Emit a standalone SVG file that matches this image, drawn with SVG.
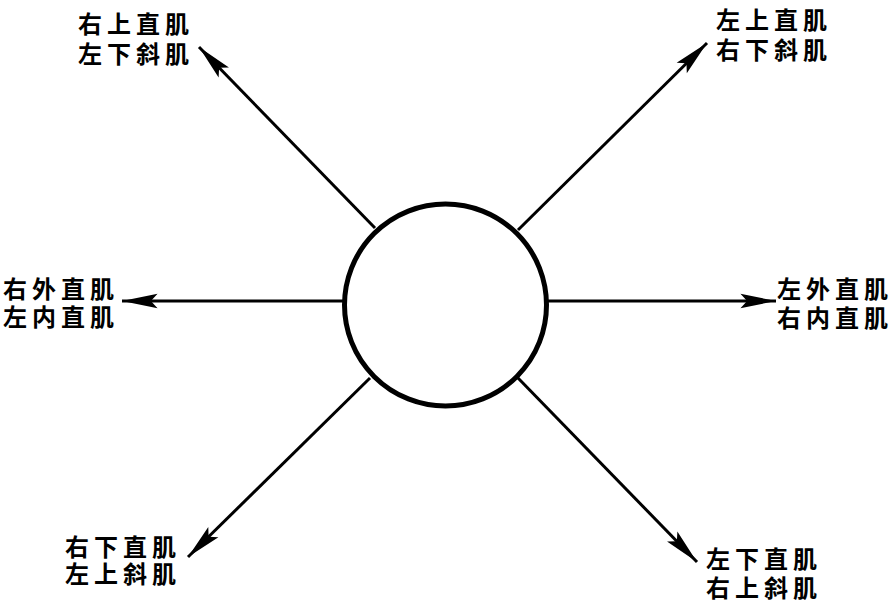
<svg xmlns="http://www.w3.org/2000/svg" width="895" height="605" viewBox="0 0 895 605">
<style>
.lbl{font-family:"Noto Sans CJK SC","Noto Sans CJK JP",sans-serif;font-size:24px;font-weight:bold;letter-spacing:5px;fill:#000}
.con{stroke:#000;stroke-width:3;fill:none;marker-end:url(#ah)}
</style>
<defs>
<marker id="ah" markerUnits="userSpaceOnUse" markerWidth="40" markerHeight="20" viewBox="-34 -9 36 18" refX="0" refY="0" orient="auto">
<path d="M0,0 L-32,-6.5 L-26,0 L-32,6.5 Z" fill="#000"/>
</marker>
</defs>
<rect width="895" height="605" fill="#fff"/>
<g id="connectors">
<line class="con" x1="375" y1="228" x2="199" y2="47"/>
<line class="con" x1="518" y1="230" x2="707" y2="43"/>
<line class="con" x1="343" y1="301" x2="122" y2="301"/>
<line class="con" x1="548" y1="301" x2="776" y2="301"/>
<line class="con" x1="370" y1="378" x2="188" y2="557"/>
<line class="con" x1="518" y1="378" x2="697" y2="562"/>
</g>
<g id="center">
<circle cx="445.5" cy="305" r="101" fill="#fff" stroke="#000" stroke-width="5"/>
</g>
<g id="n-upleft">
<text class="lbl" x="78" y="33">右上直肌</text>
<text class="lbl" x="78" y="63">左下斜肌</text>
</g>
<g id="n-upright">
<text class="lbl" x="716" y="29">左上直肌</text>
<text class="lbl" x="716" y="59">右下斜肌</text>
</g>
<g id="n-left">
<text class="lbl" x="3" y="298">右外直肌</text>
<text class="lbl" x="3" y="326">左内直肌</text>
</g>
<g id="n-right">
<text class="lbl" x="777" y="298">左外直肌</text>
<text class="lbl" x="777" y="327">右内直肌</text>
</g>
<g id="n-downleft">
<text class="lbl" x="65" y="556">右下直肌</text>
<text class="lbl" x="65" y="583">左上斜肌</text>
</g>
<g id="n-downright">
<text class="lbl" x="706" y="568">左下直肌</text>
<text class="lbl" x="706" y="597">右上斜肌</text>
</g>
</svg>
